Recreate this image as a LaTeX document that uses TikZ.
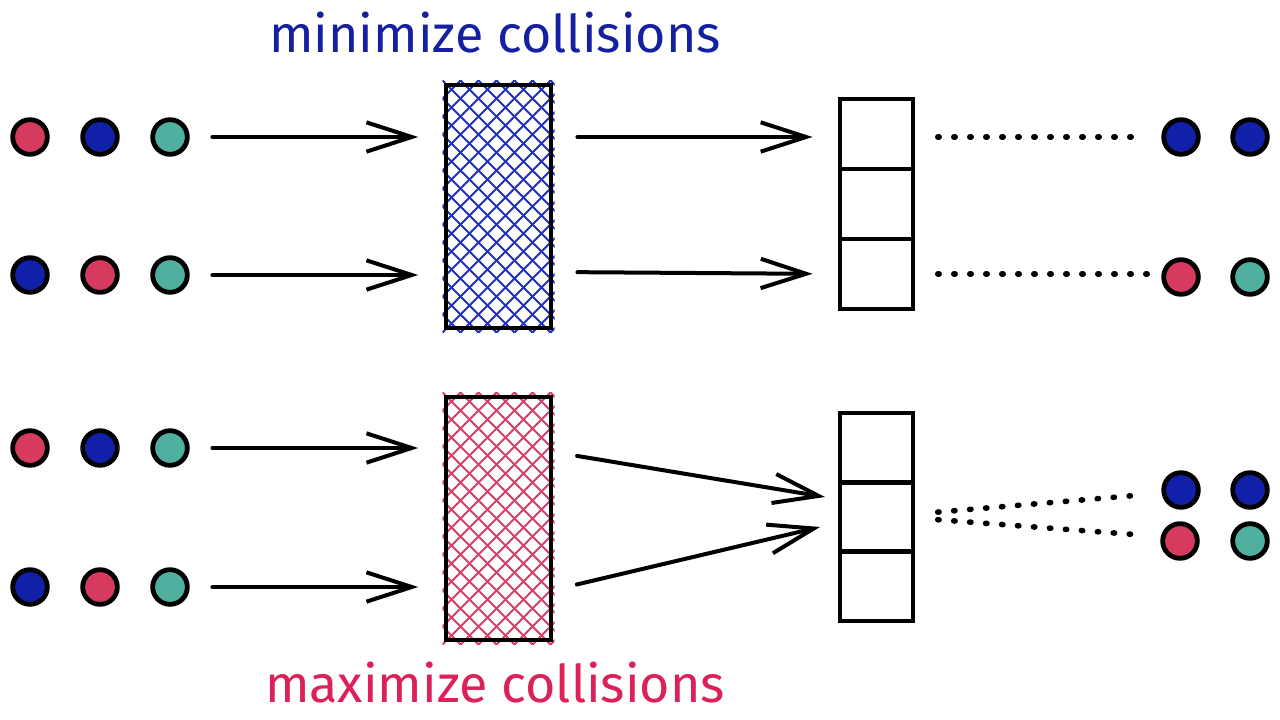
\documentclass[tikz,border=0pt]{standalone}
\usepackage{fontspec}
\setmainfont{Fira Sans}
\usetikzlibrary{arrows.meta,calc}
\definecolor{cred}{HTML}{D63A5E}
\definecolor{cblue}{HTML}{1020A8}
\definecolor{cteal}{HTML}{50B0A0}
\definecolor{tblue}{HTML}{1420A0}
\definecolor{tred}{HTML}{DC2058}
\definecolor{hblue}{HTML}{2030C0}
\definecolor{hred}{HTML}{D84068}
\begin{document}
\begin{tikzpicture}[x=0.75pt,y=-0.75pt,
  dot/.style={circle,draw=black,line width=3.6pt,minimum size=26pt,inner sep=0pt},
  arr/.style={line width=3pt,line cap=round,-{Straight Barb[length=34pt,width=22pt,line width=3pt]}},
  hbox/.style={draw=black,line width=3.6pt,minimum width=78.75pt,minimum height=182.25pt,inner sep=0pt},
  cell/.style={draw=black,line width=3.2pt,minimum width=54.75pt,minimum height=52.5pt,inner sep=0pt},
  dotl/.style={line width=4.2pt,line cap=round,dash pattern=on 1pt off 11pt},
  hatch/.style={line width=1.5pt},
  lbl/.style={font=\fontsize{39}{46}\selectfont}
]
\useasboundingbox (0,0) rectangle (1280,720);
\fill[white] (0,0) rectangle (1280,720);

% labels
\node[lbl,text=tblue] (top) at (495,33) {minimize collisions};
\node[lbl,text=tred] (bot) at (495,683) {maximize collisions};

% left dots
\node[dot,fill=cred] (a1) at (30,137) {};
\node[dot,fill=cblue] (a2) at (100,137) {};
\node[dot,fill=cteal] (a3) at (170,137) {};
\node[dot,fill=cblue] (b1) at (30,275) {};
\node[dot,fill=cred] (b2) at (100,275) {};
\node[dot,fill=cteal] (b3) at (170,275) {};
\node[dot,fill=cred] (c1) at (30,448) {};
\node[dot,fill=cblue] (c2) at (100,448) {};
\node[dot,fill=cteal] (c3) at (170,448) {};
\node[dot,fill=cblue] (d1) at (30,587) {};
\node[dot,fill=cred] (d2) at (100,587) {};
\node[dot,fill=cteal] (d3) at (170,587) {};

% hatched boxes
\coordinate (hbc) at (498.5,206.5);
\coordinate (rbc) at (498.5,518.5);
\begin{scope}[shift={(hbc)}]
  \clip (-56,-126) rectangle (56,126);
  \foreach \c in {-200,-182,...,200} {
    \draw[hatch,hblue] (\c+150,-150) -- (\c-150,150);
    \draw[hatch,hblue] (\c-150,-150) -- (\c+150,150);
  }
\end{scope}
\begin{scope}[shift={(rbc)}]
  \clip (-56,-126) rectangle (56,126);
  \foreach \c in {-200,-182,...,200} {
    \draw[hatch,hred] (\c+150,-150) -- (\c-150,150);
    \draw[hatch,hred] (\c-150,-150) -- (\c+150,150);
  }
\end{scope}
\node[hbox] (hb) at (hbc) {};
\node[hbox] (rb) at (rbc) {};

% bucket stacks
\node[cell] (u1) at (876.5,134) {};
\node[cell] (u2) at (876.5,204) {};
\node[cell] (u3) at (876.5,274) {};
\node[cell] (l1) at (876.5,448) {};
\node[cell] (l2) at (876.5,517) {};
\node[cell] (l3) at (876.5,586) {};

% right dots
\node[dot,fill=cblue] (r1) at (1181,137) {};
\node[dot,fill=cblue] (r2) at (1250,137) {};
\node[dot,fill=cred] (r3) at (1181,277) {};
\node[dot,fill=cteal] (r4) at (1250,277) {};
\node[dot,fill=cblue] (s1) at (1181,490) {};
\node[dot,fill=cblue] (s2) at (1250,490) {};
\node[dot,fill=cred] (s3) at (1180,541) {};
\node[dot,fill=cteal] (s4) at (1250,541) {};

% arrows into hash boxes
\draw[arr,shorten <=17pt,shorten >=19pt] (a3) -- (a3 -| hb.west);
\draw[arr,shorten <=17pt,shorten >=19pt] (b3) -- (b3 -| hb.west);
\draw[arr,shorten <=17pt,shorten >=19pt] (c3) -- (c3 -| rb.west);
\draw[arr,shorten <=17pt,shorten >=19pt] (d3) -- (d3 -| rb.west);

% arrows into buckets
\draw[arr,shorten <=18pt,shorten >=19pt] (a3 -| hb.east) -- (a3 -| u1.west);
\draw[arr,shorten <=18pt,shorten >=19pt] ($(b3 -| hb.east)+(0,-3)$) -- ($(b3 -| u3.west)+(0,-1)$);
\coordinate (m1) at (825,497);
\coordinate (m2) at (820,527);
\draw[arr,shorten <=18pt] ($(c3 -| rb.east)+(0,4)$) -- (m1);
\draw[arr,shorten <=18pt] ($(d3 -| rb.east)+(0,3)$) -- (m2);

% dotted lines
\draw[dotl,shorten <=17pt,shorten >=18pt] (r1 -| u1.east) -- (r1);
\draw[dotl,shorten <=17pt,shorten >=18pt] ($(r3 -| u3.east)+(0,-3)$) -- ($(r3)+(0,-3)$);
\coordinate (e1) at (1141,495);
\coordinate (e2) at (1141,535);
\draw[dotl,shorten <=17pt] ($(l2.east)+(0,-3)$) -- (e1);
\draw[dotl,shorten <=17pt] ($(l2.east)+(0,1)$) -- (e2);
\end{tikzpicture}
\end{document}
